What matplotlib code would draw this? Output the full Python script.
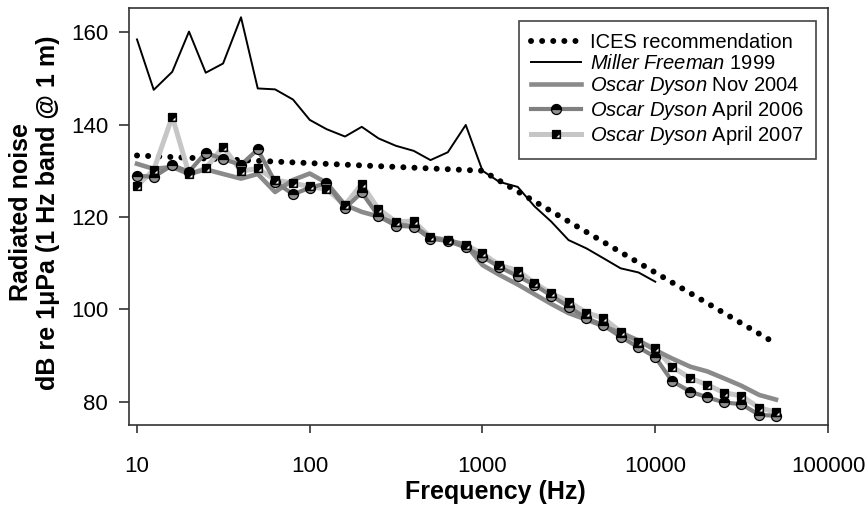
import matplotlib
matplotlib.use('Agg')
import matplotlib.pyplot as plt
from matplotlib.path import Path
from matplotlib.ticker import NullLocator

plt.rcParams['font.family'] = ['Liberation Sans', 'DejaVu Sans']
plt.rcParams['mathtext.fontset'] = 'custom'
plt.rcParams['mathtext.rm'] = 'Liberation Sans'
plt.rcParams['mathtext.it'] = 'Liberation Sans:italic'

# --- data ---
freq_ices = [10, 1000, 50000]
ices = [133.3, 130.0, 92.6]

freq_mf = [10, 12.5, 16, 20, 25, 31.5, 40, 50, 63, 80, 100, 125, 160, 200, 250,
           315, 400, 500, 630, 800, 1000, 1250, 1600, 2000, 2500, 3150, 4000,
           5000, 6300, 8000, 10000]
miller_freeman = [158.4, 147.5, 151.4, 160.1, 151.2, 153.2, 163.2, 147.8, 147.6, 145.4,
                  141.0, 139.0, 137.4, 139.5, 137.0, 135.4, 134.3, 132.3, 134.0, 139.9,
                  130.0, 127.6, 126.5, 122.3, 119.0, 115.0, 113.2, 111.1, 108.9, 108.0,
                  106.0]

freq_od = [10, 12.5, 16, 20, 25, 31.5, 40, 50, 63, 80, 100, 125, 160, 200, 250,
           315, 400, 500, 630, 800, 1000, 1250, 1600, 2000, 2500, 3150, 4000,
           5000, 6300, 8000, 10000, 12500, 16000, 20000, 25000, 31500, 40000, 50000]
od_nov2004 = [131.5, 130.4, 130.8, 129.3, 130.3, 129.3, 128.3, 129.3, 125.4, 128.0,
              129.4, 127.4, 122.6, 121.1, 120.1, 118.5, 117.9, 115.6, 114.9, 114.0,
              109.6, 107.5, 105.4, 103.3, 101.2, 99.2, 97.8, 96.4, 94.9, 93.3,
              91.2, 89.4, 87.6, 86.6, 85.1, 83.5, 81.5, 80.5]
od_apr2006 = [128.9, 128.7, 131.2, 129.8, 133.9, 132.5, 131.3, 134.6, 127.6, 124.9,
              126.3, 127.3, 121.9, 125.3, 120.2, 118.1, 117.9, 115.3, 114.8, 113.4,
              111.4, 109.2, 107.2, 105.3, 103.0, 100.6, 98.1, 96.6, 94.1, 91.8,
              89.7, 84.5, 82.2, 81.0, 79.9, 79.5, 77.2, 77.0]
od_apr2007 = [126.7, 130.2, 141.7, 129.3, 130.5, 135.2, 129.9, 130.5, 128.0, 127.3,
              126.6, 126.0, 122.6, 127.1, 121.7, 119.0, 119.1, 115.6, 115.0, 113.9,
              112.1, 109.6, 108.4, 105.7, 103.5, 101.7, 99.3, 98.1, 95.2, 93.0,
              91.6, 87.6, 85.1, 83.7, 82.0, 81.3, 78.7, 77.8]

xticks = [10, 100, 1000, 10000, 100000]
yticks = [80, 100, 120, 140, 160]

# small white corner triangle drawn on top of the black squares
tri = Path([(-0.5, 0.5), (0.02, -0.36), (0.36, -0.36), (0.36, -0.02), (0.02, -0.36)],
           [Path.MOVETO, Path.MOVETO, Path.LINETO, Path.LINETO, Path.CLOSEPOLY])

fig = plt.figure(figsize=(8.67, 5.13), dpi=100)
ax = fig.add_axes([0.1488, 0.1715, 0.8062, 0.8129])

h_ices, = ax.plot(freq_ices, ices, color='black', lw=4.3, ls=(0, (0.01, 1.85)),
                  dash_capstyle='round', zorder=2)
h_mf, = ax.plot(freq_mf, miller_freeman, color='black', lw=1.4, zorder=3)
h_nov, = ax.plot(freq_od, od_nov2004, color='#8a8a8a', lw=3.3, zorder=4,
                 solid_joinstyle='round')
h_a07_line, = ax.plot(freq_od, od_apr2007, color='#c6c6c6', lw=3.6, zorder=3.5,
                      solid_joinstyle='round')
h_a06, = ax.plot(freq_od, od_apr2006, color='#808080', lw=3.0, zorder=4.5,
                 solid_joinstyle='round',
                 marker='o', ms=7.2, fillstyle='top', mfc='black', mfcalt='#909090',
                 mec='black', mew=0.9)
h_a07_sq, = ax.plot(freq_od, od_apr2007, ls='none', marker='s', ms=6.4,
                    mfc='black', mec='black', mew=0.9, zorder=5)
h_a07_tri, = ax.plot(freq_od, od_apr2007, ls='none', marker=tri, ms=6.4,
                     mfc='white', mec='none', zorder=6)

ax.set_xscale('log')
ax.set_xlim(8.99, 100000)
ax.set_ylim(75.0, 165.2)
ax.set_xticks(xticks)
ax.set_xticklabels([str(t) for t in xticks])
ax.xaxis.set_minor_locator(NullLocator())
ax.set_yticks(yticks)
ax.set_yticklabels([str(t) for t in yticks])

for s in ax.spines.values():
    s.set_linewidth(1.2)
    s.set_color('#333333')
ax.tick_params(axis='x', direction='out', length=6, width=1.2, color='#333333',
               labelsize=16, pad=16)
ax.tick_params(axis='y', direction='out', length=7, width=1.2, color='#333333',
               labelsize=16, pad=8)

ax.set_xlabel('Frequency (Hz)', fontsize=18, fontweight='bold')
ax.xaxis.set_label_coords(0.524, -0.133)
ax.set_ylabel('Radiated noise\ndB re 1\u03bcPa (1 Hz band @ 1 m)', fontsize=18,
              fontweight='bold', linespacing=1.15)
ax.yaxis.set_label_coords(-0.099, 0.51)

h_a07 = (h_a07_line, h_a07_sq, h_a07_tri)
leg = ax.legend([h_ices, h_mf, h_nov, h_a06, h_a07],
                ['ICES recommendation',
                 r'$\mathit{Miller\ Freeman}$ 1999',
                 r'$\mathit{Oscar\ Dyson}$ Nov 2004',
                 r'$\mathit{Oscar\ Dyson}$ April 2006',
                 r'$\mathit{Oscar\ Dyson}$ April 2007'],
                loc='upper right', bbox_to_anchor=(0.983, 0.969), borderaxespad=0,
                fontsize=14.5, fancybox=False, framealpha=1, edgecolor='#444444',
                handlelength=2.5, handletextpad=0.45, labelspacing=0.1,
                borderpad=0.6, numpoints=1)
leg.get_frame().set_linewidth(1.2)

fig.savefig('out.png', dpi=100)
